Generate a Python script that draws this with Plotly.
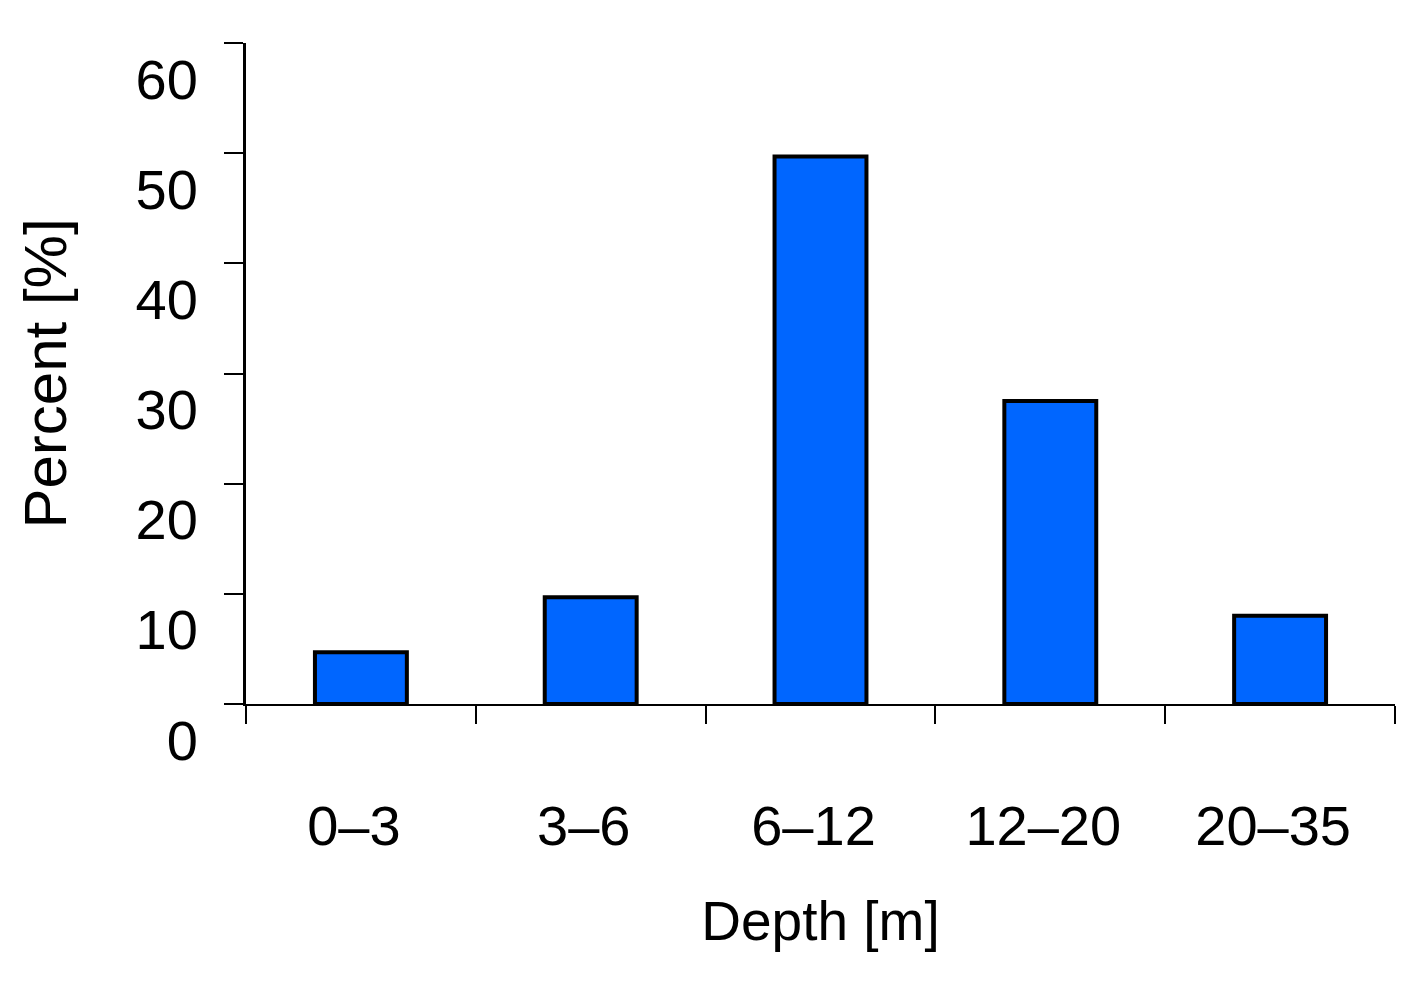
import plotly.graph_objects as go

categories = ["0–3", "3–6", "6–12", "12–20", "20–35"]
percent = [4.7, 9.7, 49.7, 27.5, 8.0]
y_ticks = [0, 10, 20, 30, 40, 50, 60]

FONT = "Liberation Sans, Arial, sans-serif"

fig = go.Figure()
fig.add_trace(go.Bar(
    x=categories, y=percent,
    marker=dict(color="#0066FF", line=dict(color="black", width=4)),
    width=0.4,
))

fig.update_layout(
    width=1425, height=989,
    margin=dict(l=238, r=38, t=35, b=293),
    plot_bgcolor="white", paper_bgcolor="white",
    showlegend=False,
    font=dict(family=FONT, color="black"),
)

fig.update_xaxes(
    type="category",
    showline=True, linecolor="black", linewidth=2,
    ticks="outside", ticklen=18, tickwidth=2, tickcolor="black",
    tickson="boundaries",
    showgrid=False, zeroline=False,
    tickfont=dict(size=56, family=FONT),
    ticklabelstandoff=72,
    ticklabelshift=-7,
    title=dict(text="Depth [m]", font=dict(size=55, family=FONT), standoff=45),
    automargin=False,
)

fig.update_yaxes(
    range=[0, 60],
    tickvals=y_ticks,
    showline=True, linecolor="black", linewidth=3,
    ticks="outside", ticklen=19, tickwidth=2, tickcolor="black",
    showgrid=False, zeroline=False,
    tickfont=dict(size=56, family=FONT),
    ticklabelshift=36,
    ticklabelstandoff=15,
    title=dict(text="Percent [%]", font=dict(size=60, family=FONT), standoff=50),
    automargin=False,
)

# extension of the y axis line below the x axis
fig.add_shape(
    type="line", xref="x domain", x0=0, x1=0,
    yref="y", ysizemode="pixel", yanchor=0, y0=0, y1=-18,
    line=dict(color="black", width=3),
)

fig.write_html("out.html")
